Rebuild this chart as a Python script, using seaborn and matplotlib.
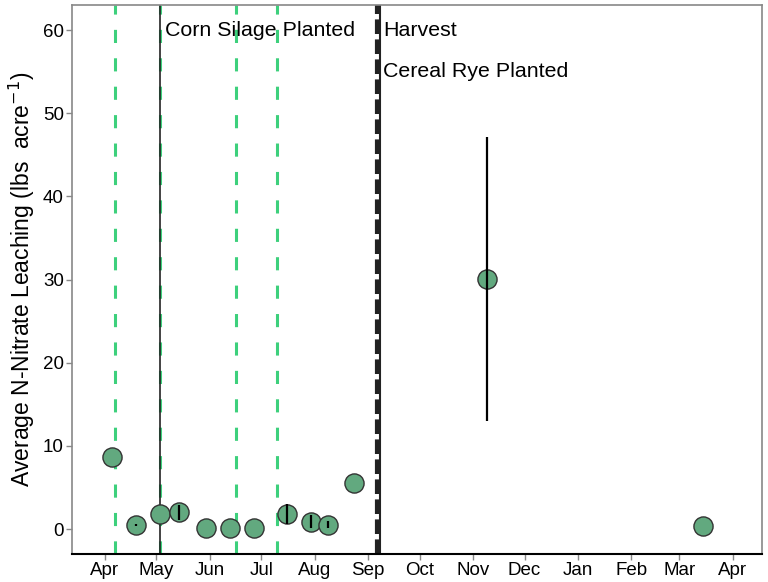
import matplotlib
matplotlib.use("Agg")
import matplotlib.pyplot as plt
import numpy as np
import pandas as pd
import seaborn as sns

# fechas de muestreo y lixiviacion promedio (lbs acre-1)
sample_dates = ["2018-04-05", "2018-04-19", "2018-05-03", "2018-05-14", "2018-05-30",
                "2018-06-13", "2018-06-27", "2018-07-16", "2018-07-30", "2018-08-09",
                "2018-08-24", "2018-11-09", "2019-03-15"]
leaching = [8.7, 0.5, 1.8, 2.0, 0.1, 0.1, 0.1, 1.8, 0.9, 0.55, 5.6, 30.1, 0.35]
leaching_err = [0.0, 0.1, 0.0, 0.9, 0.0, 0.0, 0.0, 1.2, 0.75, 0.4, 0.0, 17.1, 0.0]

# eventos de manejo
green_events = ["2018-04-07", "2018-05-03", "2018-06-16", "2018-07-10"]
corn_planted = "2018-05-03"
harvest = "2018-09-06"
rye_planted = "2018-09-08"

tick_dates = pd.date_range("2018-04-01", "2019-04-01", freq="MS")
tick_labels = [d.strftime("%b") for d in tick_dates]

df = pd.DataFrame({
    "date": pd.to_datetime(sample_dates),
    "leaching": leaching,
    "err": leaching_err,
})

sns.set_theme(style="white")
plt.rcParams["font.family"] = ["Liberation Sans", "DejaVu Sans"]

fig, ax = plt.subplots(figsize=(7.68, 5.82), dpi=100)

for d in green_events:
    ax.axvline(pd.Timestamp(d), color="#3dd07c", lw=2.2, ls=(0, (4.3, 5)), zorder=1)
ax.axvline(pd.Timestamp(corn_planted), color="#222222", lw=1.2, zorder=1)
ax.axvline(pd.Timestamp(harvest), color="#222222", lw=3, ls=(0, (3.5, 1.3)), zorder=1)
ax.axvline(pd.Timestamp(rye_planted), color="#222222", lw=1.5, zorder=1)

sns.scatterplot(data=df, x="date", y="leaching", ax=ax, s=190, color="#62a97f",
                edgecolor="#333333", linewidth=1.0, zorder=3, legend=False)
# las barras de error van encima del punto
ax.vlines(df["date"], df["leaching"] - df["err"], df["leaching"] + df["err"],
          color="black", lw=1.6, zorder=4)

ax.text(pd.Timestamp("2018-05-06"), 60, "Corn Silage Planted", fontsize=15.4, va="center",
        color="black")
ax.text(pd.Timestamp("2018-09-10"), 60, "Harvest", fontsize=15.4, va="center", color="black")
ax.text(pd.Timestamp("2018-09-10"), 55, "Cereal Rye Planted", fontsize=15.4, va="center",
        color="black")

ax.set_xlim(pd.Timestamp("2018-03-13"), pd.Timestamp("2019-04-18"))
ax.set_ylim(-3, 63)
ax.set_xticks(tick_dates)
ax.set_xticklabels(tick_labels)
ax.set_yticks([0, 10, 20, 30, 40, 50, 60])
ax.tick_params(axis="both", labelsize=13.5, labelcolor="black", length=4, width=1,
               direction="out", bottom=True, left=True, color="#888888", pad=2)
ax.set_xlabel("")
ax.set_ylabel("Average N-Nitrate Leaching (lbs  acre$^{-1}$)", fontsize=16.5, color="black")

for side in ["left", "top", "right"]:
    ax.spines[side].set_color("#888888")
    ax.spines[side].set_linewidth(1.2)
ax.spines["bottom"].set_color("black")
ax.spines["bottom"].set_linewidth(1.5)

fig.subplots_adjust(left=0.094, right=0.992, top=0.991, bottom=0.048)
fig.savefig("out.png", dpi=100)
plt.close()
